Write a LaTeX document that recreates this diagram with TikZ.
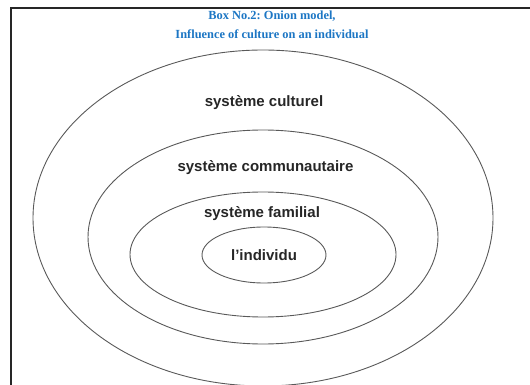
\documentclass[tikz,border=0pt]{standalone}
\usepackage{fontspec}
\setmainfont{Liberation Serif}
\setsansfont{Liberation Sans}
\usepackage{tikz}
\usetikzlibrary{shapes.geometric}
\usepackage{xcolor}
\definecolor{boxblue}{RGB}{28,118,196}
\frenchspacing

\begin{document}
\begin{tikzpicture}[x=1pt,y=-1pt]
        \tikzset{Ring/.style={draw=black!65, line width=0.9pt, ellipse, inner sep=0pt},
                 Label/.style={font=\sffamily\bfseries\fontsize{15}{17}\selectfont, text=black!85},
                 Title/.style={font=\rmfamily\bfseries\fontsize{12.4}{15}\selectfont, text=boxblue}}
        \useasboundingbox (0,0) rectangle (530,385);
        % frame of the box
        \draw[line width=2pt, black!85] (11,386) -- (11,8) -- (531,8);
        \node[Title] (t1) at (272,16) {Box No.2: Onion model,};
        \node[Title] (t2) at (272,34) {Influence of culture on an individual};
        % the four layers
        \node[Ring, minimum width=460pt, minimum height=336pt] (culture) at (263,218) {};
        \node[Ring, minimum width=350pt, minimum height=214pt] (community) at (263,237) {};
        \node[Ring, minimum width=266pt, minimum height=125pt] (family) at (263,254.5) {};
        \node[Ring, Label, minimum width=124pt, minimum height=56pt] (self) at (264,255) {l’individu};
        \node[Label] (lculture) at (264,103) {système culturel};
        \node[Label] (lcommunity) at (265.5,168) {système communautaire};
        \node[Label] (lfamily) at (262,214) {système familial};
    \end{tikzpicture}
\end{document}
